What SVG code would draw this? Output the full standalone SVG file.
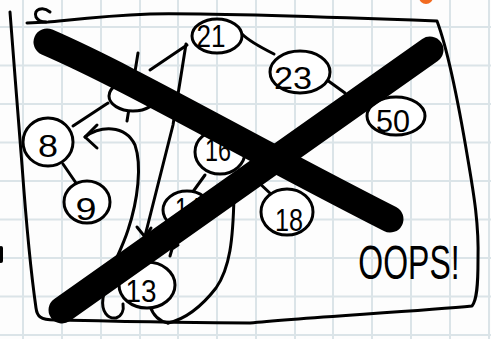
<svg xmlns="http://www.w3.org/2000/svg" width="491" height="339" viewBox="0 0 491 339">
<style>
.grid{stroke:#dbe4e8;stroke-width:2;fill:none}
.pen{stroke:#000;stroke-width:3;fill:none;stroke-linecap:round;stroke-linejoin:round}
.node{stroke:#000;stroke-width:3;fill:#fff}
.num{font-family:"Liberation Sans",Arial,sans-serif;font-size:32px;fill:#000;text-anchor:middle}
.bar{stroke:#000;stroke-width:27;fill:none;stroke-linecap:round}
</style>
<rect x="0" y="0" width="491" height="339" fill="#fdfdfd"/>
<path class="grid" d="M23 0V339M62 0V339M101 0V339M140 0V339M178 0V339M217 0V339M256 0V339M295 0V339M333 0V339M372 0V339M411 0V339M450 0V339M489 0V339M0 27H491M0 65.5H491M0 104H491M0 142.5H491M0 181H491M0 219.5H491M0 258H491M0 296.5H491M0 335H491"/>
<circle cx="426" cy="-3" r="7" fill="#f26b21"/>
<g id="frame" class="pen">
<path d="M27 23 L48 22 C70 20 100 16 150 14 C200 13 300 16 437 21 C446 45 458 100 468 160 C474 195 479 225 478 260 C478 285 477 300 472 306 C420 311 300 318 250 323 C180 323 100 321 55 320 C40 320 37 316 36 308 C32 280 26 220 22 165 C18 120 14 60 10 12"/>
<path d="M50 12 C43 6 33 9 36 17 C38 21 42 22 46 22"/>
<path d="M1 248 L1 261" stroke-width="4"/>
</g>
<g id="connectors" class="pen">
<path d="M242 34 C250 42 262 48 274 54"/>
<path d="M327 80 L345 93"/>
<path d="M187 45 L150 70"/>
<path d="M138 53 L127 121"/>
<path d="M108 103 L73 126"/>
<path d="M63 164 L76 183"/>
<path d="M186 44 C182 70 177 100 173 125 L145 236"/>
<path d="M137 227 L145 237 L151 228"/>
<path d="M97 125 L85 137 L97 148"/>
<path d="M85 137 C100 126 125 124 135 145 C142 165 138 200 128 230 C120 255 106 275 103 298 C101 312 108 319 116 318 C122 316 124 310 123 304"/>
<path d="M205 175 L192 193"/>
<path d="M256 180 L273 196"/>
<path d="M241 189 L245 192"/>
<path d="M165 242 L172 249 L178 245 M172 249 L170 256"/>
<path d="M234 196 C233 240 230 268 216 288 C202 306 186 319 168 323"/>
<path d="M150 306 C153 315 158 321 168 323"/>
</g>
<g id="n21"><ellipse class="node" cx="217" cy="36" rx="25" ry="17"/><text class="num" x="211" y="47" font-size="29" textLength="29" lengthAdjust="spacingAndGlyphs">21</text></g>
<g id="n23"><ellipse class="node" cx="300" cy="72" rx="30" ry="21"/><text class="num" x="293" y="89" font-size="34" textLength="38" lengthAdjust="spacingAndGlyphs">23</text></g>
<g id="n50"><ellipse class="node" cx="396" cy="116" rx="29" ry="19"/><text class="num" x="393" y="132" font-size="30" textLength="34" lengthAdjust="spacingAndGlyphs">50</text></g>
<g id="n12"><ellipse class="node" cx="133" cy="96" rx="24" ry="15"/></g>
<g id="n8"><ellipse class="node" cx="48" cy="142" rx="25" ry="24"/><text class="num" x="48" y="157" font-size="40" textLength="20" lengthAdjust="spacingAndGlyphs">8</text></g>
<g id="n9"><ellipse class="node" cx="87" cy="202" rx="23" ry="21"/><text class="num" x="86" y="220" font-size="38" textLength="21" lengthAdjust="spacingAndGlyphs">9</text></g>
<g id="n16"><ellipse class="node" cx="220" cy="152" rx="25" ry="22"/><text class="num" x="218" y="161" font-size="24" textLength="26" lengthAdjust="spacingAndGlyphs">16</text></g>
<g id="n14"><ellipse class="node" cx="187" cy="210" rx="24" ry="19"/><text class="num" x="188" y="220" font-size="28" textLength="26" lengthAdjust="spacingAndGlyphs">14</text></g>
<g id="n18"><ellipse class="node" cx="287" cy="212" rx="26" ry="23"/><text class="num" x="289" y="231" font-size="36" textLength="28" lengthAdjust="spacingAndGlyphs">18</text></g>
<g id="n13"><ellipse class="node" cx="147" cy="285" rx="28" ry="23"/><text class="num" x="141" y="302" font-size="34" textLength="31" lengthAdjust="spacingAndGlyphs">13</text></g>
<g id="cross">
<path class="bar" d="M47 42 C130 78 235 140 390 219"/>
<path class="bar" d="M62 310 L430 50"/>
</g>
<text transform="translate(409,279) scale(1,1.5)" font-family="'Liberation Sans',Arial,sans-serif" font-size="32" text-anchor="middle">OOPS!</text>
</svg>
